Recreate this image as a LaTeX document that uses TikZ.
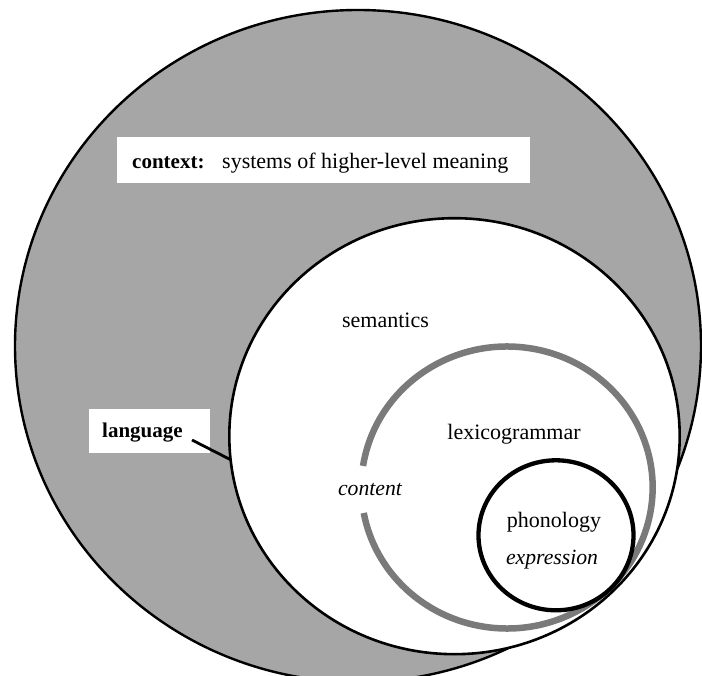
\documentclass[tikz,border=0pt]{standalone}
\usepackage{fontspec}
\setmainfont{Liberation Serif}
\usetikzlibrary{shapes.geometric}
\begin{document}
\begin{tikzpicture}[x=1pt,y=-1pt,
  rim/.style={ellipse,draw=black,inner sep=0pt,outer sep=0pt},
  halftone/.style={fill=black!35},
  plainlabel/.style={inner sep=0pt,font=\fontsize{22}{26}\selectfont},
  keylabel/.style={inner sep=0pt,font=\fontsize{21}{26}\selectfont\bfseries},
  slantlabel/.style={inner sep=0pt,font=\fontsize{21.7}{26}\selectfont\itshape},
  strip/.style={fill=white,inner sep=0pt},
  ringline/.style={draw=black!52,line width=6.5pt}
]
\useasboundingbox (0,0) rectangle (702,676);
\clip (0,0) rectangle (702,676);

% context: outer shaded field
\node[rim,halftone,line width=2.4pt,minimum width=686pt,minimum height=672pt] (ctx) at (358,346) {};
\node[strip,minimum width=413pt,minimum height=46pt] (ctxbox) at (323.5,160) {};
\node[keylabel,anchor=base west] (ctxkey) at (132,169) {context:};
\node[plainlabel,anchor=base west] (ctxval) at (222,169) {systems of higher-level meaning};

% language / semantics
\node[rim,fill=white,line width=2.6pt,minimum width=450.4pt,minimum height=436pt] (sem) at (454.5,436.2) {};
\node[plainlabel,anchor=base] (semlbl) at (385.5,328) {semantics};

% lexicogrammar: grey ring, open on the left for the label
\draw[ringline] (507,487.5) ++({145.65*cos(188.8)},{141*sin(188.8)})
  arc[start angle=188.8,end angle=529.6,x radius=145.65,y radius=141];
\node[plainlabel,anchor=base] (lexlbl) at (514,439) {lexicogrammar};
\node[slantlabel,anchor=base] (conlbl) at (370,495) {content};

% phonology
\node[rim,fill=white,line width=4.3pt,minimum width=155pt,minimum height=150pt] (phon) at (556,535.3) {};
\node[plainlabel,anchor=base] (phonlbl) at (554,527) {phonology};
\node[slantlabel,anchor=base] (exprlbl) at (552,564) {expression};

% language label and its leader line
\node[strip,minimum width=121pt,minimum height=44pt] (langbox) at (149.5,431) {};
\node[keylabel,anchor=base west] (langlbl) at (102,438) {language};
\coordinate (langtip) at (192,440);
\draw[line width=2.8pt] (langtip) -- (sem.186);
\end{tikzpicture}
\end{document}
